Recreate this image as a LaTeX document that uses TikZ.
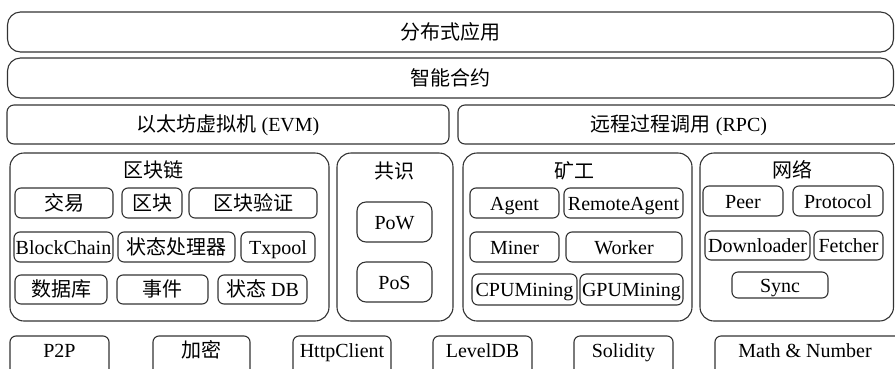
\documentclass[tikz,border=0pt]{standalone}
\usepackage{fontspec}
\setmainfont{Liberation Serif}
\newfontfamily\cjk{Noto Sans CJK SC}
\begin{document}
\begin{tikzpicture}[x=1pt,y=-1pt,
  every node/.style={font=\fontsize{20}{23}\selectfont, inner sep=0pt, text height=14pt, text depth=0pt},
  lbox/.style={draw=black!80, line width=1.1pt, rounded corners=13pt},
  mbox/.style={draw=black!80, line width=1.1pt, rounded corners=7pt},
  grp/.style={draw=black!80, line width=1.1pt, rounded corners=14pt},
  ibox/.style={draw=black!80, line width=1.1pt, rounded corners=6pt},
  plain/.style={inner sep=0pt}]
\clip (0,0) rectangle (895,368);
% top rows
\node[lbox, minimum width=886, minimum height=40] (app) at (450.5,32) {{\cjk 分布式应用}};
\node[lbox, minimum width=886, minimum height=40] (sc) at (450.5,78) {{\cjk 智能合约}};
\node[mbox, minimum width=442, minimum height=39] (evm) at (228,124.5) {{\cjk 以太坊虚拟机} (EVM)};
\node[mbox, minimum width=442, minimum height=39] (rpc) at (679,124.5) {{\cjk 远程过程调用} (RPC)};
% groups
\node[grp, minimum width=319, minimum height=168] (gchain) at (169.5,237) {};
\node[plain] (tchain) at (153,170) {\cjk 区块链};
\node[grp, minimum width=116, minimum height=168] (gcons) at (395,237) {};
\node[plain] (tcons) at (394,171) {\cjk 共识};
\node[grp, minimum width=229, minimum height=168] (gmine) at (577.5,237) {};
\node[plain] (tmine) at (574,171) {\cjk 矿工};
\node[grp, minimum width=193.5, minimum height=168] (gnet) at (796.75,237) {};
\node[plain] (tnet) at (792,170) {\cjk 网络};
% blockchain inner
\node[ibox, minimum width=98, minimum height=30] (tx) at (64,203) {\cjk 交易};
\node[ibox, minimum width=60, minimum height=30] (blk) at (152,203) {\cjk 区块};
\node[ibox, minimum width=128, minimum height=30] (bv) at (253,203) {\cjk 区块验证};
\node[ibox, minimum width=99, minimum height=30] (bc) at (63.5,247) {BlockChain};
\node[ibox, minimum width=117, minimum height=30] (sp) at (176.5,247) {\cjk 状态处理器};
\node[ibox, minimum width=74, minimum height=30] (txp) at (278,247) {Txpool};
\node[ibox, minimum width=92, minimum height=29] (db) at (61,289.5) {\cjk 数据库};
\node[ibox, minimum width=91, minimum height=29] (ev) at (162.5,289.5) {\cjk 事件};
\node[ibox, minimum width=89, minimum height=29] (sdb) at (262.5,289.5) {{\cjk 状态} DB};
% consensus
\node[ibox, rounded corners=9pt, minimum width=75, minimum height=40] (pow) at (394.5,222) {PoW};
\node[ibox, rounded corners=9pt, minimum width=75, minimum height=40] (pos) at (394.5,282) {PoS};
% miner
\node[ibox, minimum width=89, minimum height=30] (ag) at (514.5,203) {Agent};
\node[ibox, minimum width=119, minimum height=30] (ra) at (623.5,203) {RemoteAgent};
\node[ibox, minimum width=89, minimum height=30] (mi) at (514.5,247) {Miner};
\node[ibox, minimum width=116, minimum height=30] (wo) at (624,247) {Worker};
\node[ibox, minimum width=105, minimum height=31] (cpu) at (524.5,289.5) {CPUMining};
\node[ibox, minimum width=103, minimum height=31] (gpu) at (631.5,289.5) {GPUMining};
% network
\node[ibox, minimum width=80, minimum height=30] (peer) at (743,201) {Peer};
\node[ibox, minimum width=90, minimum height=30] (proto) at (838,201) {Protocol};
\node[ibox, minimum width=105, minimum height=29] (dl) at (757.5,245.5) {Downloader};
\node[ibox, minimum width=69, minimum height=29] (fe) at (848.5,245.5) {Fetcher};
\node[ibox, minimum width=96, minimum height=26] (sy) at (780,285) {Sync};
% bottom row
\node[ibox, minimum width=99, minimum height=40] (p2p) at (59.5,356) {};
\node[plain] (tp2p) at (59.5,350) {P2P};
\node[ibox, minimum width=97, minimum height=40] (enc) at (201.5,356) {};
\node[plain] (tenc) at (201.5,350) {\cjk 加密};
\node[ibox, minimum width=98, minimum height=40] (http) at (342,356) {};
\node[plain] (thttp) at (342,350) {HttpClient};
\node[ibox, minimum width=99, minimum height=40] (ldb) at (482.5,356) {};
\node[plain] (tldb) at (482.5,350) {LevelDB};
\node[ibox, minimum width=99, minimum height=40] (sol) at (623.5,356) {};
\node[plain] (tsol) at (623.5,350) {Solidity};
\node[ibox, minimum width=190, minimum height=40] (math) at (810,356) {};
\node[plain] (tmath) at (805,350) {Math \& Number};
\end{tikzpicture}
\end{document}
